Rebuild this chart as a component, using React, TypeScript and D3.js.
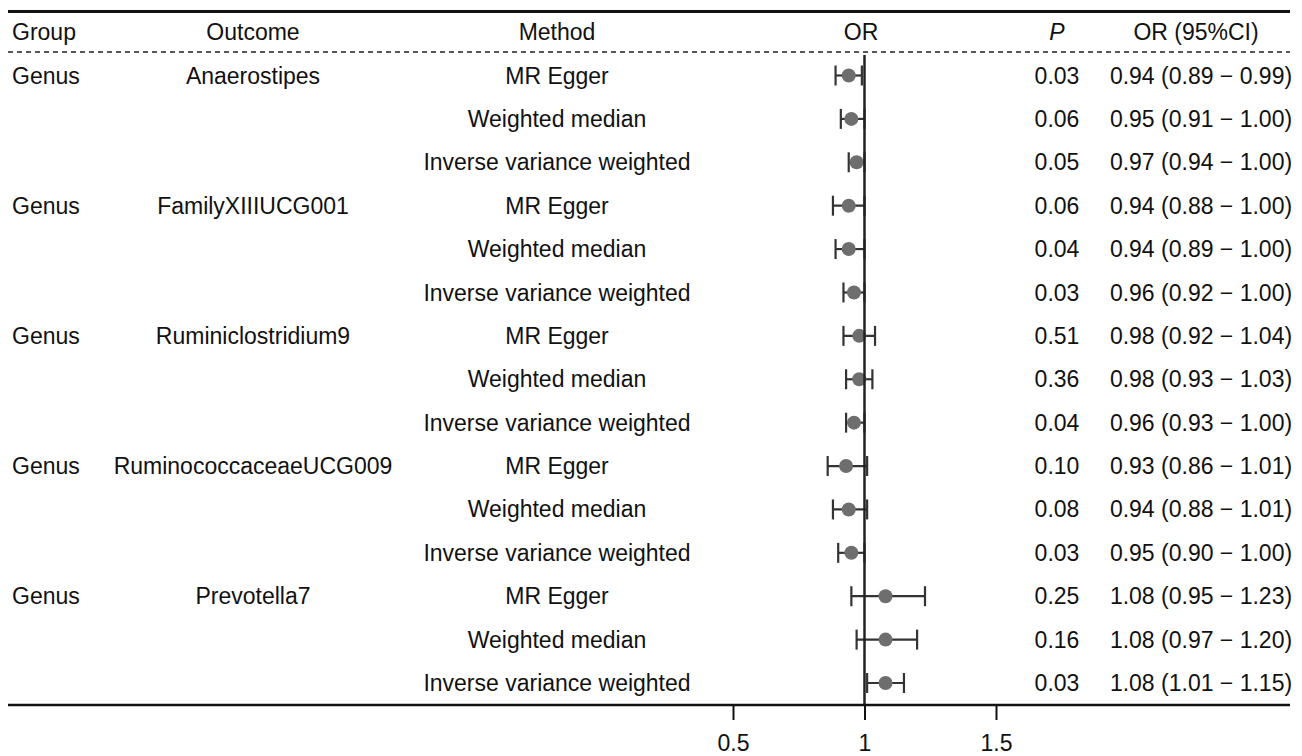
import React, { useRef, useEffect } from "react";
import * as d3 from "d3";

const groups = ["Genus", "Genus", "Genus", "Genus", "Genus"];
const outcomes = ["Anaerostipes", "FamilyXIIIUCG001", "Ruminiclostridium9", "RuminococcaceaeUCG009", "Prevotella7"];
const methods = ["MR Egger", "Weighted median", "Inverse variance weighted"];

// one entry per row (outcome x method)
const orValues = [0.94, 0.95, 0.97, 0.94, 0.94, 0.96, 0.98, 0.98, 0.96, 0.93, 0.94, 0.95, 1.08, 1.08, 1.08];
const lowerCI = [0.89, 0.91, 0.94, 0.88, 0.89, 0.92, 0.92, 0.93, 0.93, 0.86, 0.88, 0.90, 0.95, 0.97, 1.01];
const upperCI = [0.99, 1.00, 1.00, 1.00, 1.00, 1.00, 1.04, 1.03, 1.00, 1.01, 1.01, 1.00, 1.23, 1.20, 1.15];
const pValues = ["0.03", "0.06", "0.05", "0.06", "0.04", "0.03", "0.51", "0.36", "0.04", "0.10", "0.08", "0.03", "0.25", "0.16", "0.03"];
const axisTicks = [0.5, 1, 1.5];

export default function App() {
  const svgRef = useRef<SVGSVGElement>(null);

  useEffect(() => {
    const width = 1302;
    const height = 756;
    const font = "'Liberation Sans', Arial, sans-serif";
    const svg = d3.select(svgRef.current)
      .attr("width", width)
      .attr("height", height)
      .style("font-family", font)
      .style("font-size", "23px");
    svg.selectAll("*").remove();

    const rows = orValues.map((v, i) => ({
      or: v,
      lo: lowerCI[i],
      hi: upperCI[i],
      p: pValues[i],
      method: methods[i % 3],
      group: i % 3 === 0 ? groups[i / 3] : "",
      outcome: i % 3 === 0 ? outcomes[i / 3] : "",
    }));

    const x = d3.scaleLinear().domain([0.5, 1.5]).range([733, 996]);
    const y = d3.scaleLinear().domain([0, rows.length - 1]).range([75.5, 683]);

    const left = 8;
    const right = 1290;
    const axisY = 705;

    // header
    svg.append("line").attr("x1", left).attr("x2", right).attr("y1", 11.5).attr("y2", 11.5)
      .attr("stroke", "#111").attr("stroke-width", 3);
    svg.append("line").attr("x1", left).attr("x2", right).attr("y1", 52).attr("y2", 52)
      .attr("stroke", "#222").attr("stroke-width", 1.5).attr("stroke-dasharray", "5,4");

    const header = [
      { t: "Group", x: 12, a: "start", italic: false },
      { t: "Outcome", x: 253, a: "middle", italic: false },
      { t: "Method", x: 557, a: "middle", italic: false },
      { t: "OR", x: 861, a: "middle", italic: false },
      { t: "P", x: 1057, a: "middle", italic: true },
      { t: "OR (95%CI)", x: 1196, a: "middle", italic: false },
    ];
    svg.selectAll(".hd").data(header).join("text")
      .attr("x", d => d.x).attr("y", 40)
      .attr("text-anchor", d => d.a)
      .attr("font-style", d => d.italic ? "italic" : "normal")
      .attr("fill", "#111")
      .text(d => d.t);

    const g = svg.selectAll(".row").data(rows).join("g")
      .attr("transform", (d, i) => `translate(0,${y(i)})`);

    g.append("text").attr("x", 12).attr("dy", "0.35em").attr("fill", "#111").text(d => d.group);
    g.append("text").attr("x", 253).attr("dy", "0.35em").attr("text-anchor", "middle").attr("fill", "#111").text(d => d.outcome);
    g.append("text").attr("x", 557).attr("dy", "0.35em").attr("text-anchor", "middle").attr("fill", "#111").text(d => d.method);
    g.append("text").attr("x", 1057).attr("dy", "0.35em").attr("text-anchor", "middle").attr("fill", "#111").text(d => d.p);
    g.append("text").attr("x", 1201).attr("dy", "0.35em").attr("text-anchor", "middle").attr("fill", "#111")
      .text(d => `${d.or.toFixed(2)} (${d.lo.toFixed(2)} \u2212 ${d.hi.toFixed(2)})`);

    // reference line at OR = 1
    svg.append("line").attr("x1", x(1)).attr("x2", x(1)).attr("y1", 55).attr("y2", axisY)
      .attr("stroke", "#222").attr("stroke-width", 2.5);

    // error bars
    const capH = 10;
    g.append("line").attr("x1", d => x(d.lo)).attr("x2", d => x(d.hi))
      .attr("stroke", "#333").attr("stroke-width", 2.2);
    g.append("line").attr("x1", d => x(d.lo)).attr("x2", d => x(d.lo)).attr("y1", -capH).attr("y2", capH)
      .attr("stroke", "#333").attr("stroke-width", 2.2);
    g.append("line").attr("x1", d => x(d.hi)).attr("x2", d => x(d.hi)).attr("y1", -capH).attr("y2", capH)
      .attr("stroke", "#333").attr("stroke-width", 2.2);
    g.append("circle").attr("cx", d => x(d.or)).attr("r", 7).attr("fill", "#6e6e6e");

    // bottom axis
    svg.append("line").attr("x1", 0).attr("x2", right).attr("y1", axisY).attr("y2", axisY)
      .attr("stroke", "#111").attr("stroke-width", 2.5);
    const axis = d3.axisBottom(x).tickValues(axisTicks).tickFormat(d3.format("")).tickSize(15).tickPadding(15);
    const ax = svg.append("g").attr("transform", `translate(0,${axisY})`).call(axis);
    ax.select(".domain").remove();
    ax.selectAll(".tick line").attr("stroke", "#111").attr("stroke-width", 2);
    ax.selectAll(".tick text").attr("fill", "#111")
      .style("font-family", font).style("font-size", "23px");
  }, []);

  return (
    <div>
      <svg ref={svgRef} style={{ display: "block", margin: "-8px -8px 0 -8px" }}></svg>
    </div>
  );
}
